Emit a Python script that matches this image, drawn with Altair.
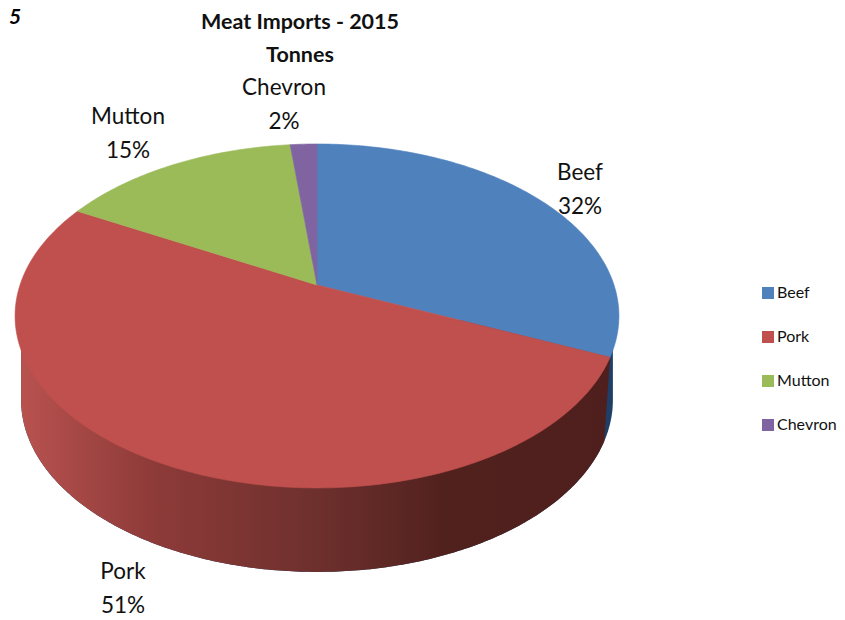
import math
import altair as alt
import pandas as pd

# Values
names = ["Beef", "Pork", "Mutton", "Chevron"]
shares = [31.6, 51.4, 15.3, 1.7]
colors = ["#4F81BD", "#C0504D", "#9BBB59", "#8064A2"]
title_lines = ["Meat Imports - 2015", "Tonnes"]
label_x = [580, 123, 128, 284]
label_y = [173, 572, 117, 88]

FONT = "Lato"

# Pie geometry (page pixels; a tilted circle seen in perspective)
CX, CY, RX, RY, K = 317, 285, 297, 166.4, 0.18
DEPTH, BOTTOM_X = 84, 0.98


def project(theta, sx=1.0, dy=0.0):
    u, v = math.sin(theta), math.cos(theta)
    d = 1 + K * v
    return CX + sx * RX * u / d, CY + dy - RY * v / d


# Top face slices
rows = []
start = 0.0
total = sum(shares)
boundary = None
for name, share in zip(names, shares):
    end = start + share / total
    rows.append({"slice": name, "i": 0, "x": CX, "y": CY})
    n = max(2, int(share * 4))
    for j in range(n + 1):
        t = 2 * math.pi * (start + (end - start) * j / n)
        px, py = project(t)
        rows.append({"slice": name, "i": j + 1, "x": px, "y": py})
    if name == "Beef":
        boundary = 2 * math.pi * end
    start = end
top = pd.DataFrame(rows)

# Side wall: lower rim of the bottom face
t_right = math.pi - math.acos(K)
t_left = math.pi + math.acos(K)
TOP_Y = CY + 35
pork_rows, beef_rows = [], []
steps = 240
for j in range(steps + 1):
    t = t_right + (t_left - t_right) * j / steps
    px, py = project(t, BOTTOM_X, DEPTH)
    beef_rows.append({"x": px, "y": py, "y2": TOP_Y})
    if t >= boundary:
        pork_rows.append({"x": px, "y": py, "y2": TOP_Y})
# Seam between Pork and Beef walls runs from the top rim to the bottom rim
x0, y0 = project(boundary)
x1, y1 = project(boundary, BOTTOM_X, DEPTH)
seam = [
    {"x": x1 + (x0 - x1) * f, "y": y1 + (y0 - y1) * f, "y2": TOP_Y}
    for f in (0.0, 0.25, 0.5, 0.75, 1.0)
]
pork_rows = pd.DataFrame(pork_rows + seam)
beef_rows = pd.DataFrame(beef_rows)

xs = alt.Scale(domain=[8, 837], range=[0, 829])
ys = alt.Scale(domain=[8, 616], range=[0, 608])
X = alt.X("x:Q", scale=xs, axis=None)
Y = alt.Y("y:Q", scale=ys, axis=None)

pork_side = alt.Chart(pork_rows).mark_area(
    color=alt.Gradient(
        gradient="linear", x1=0, y1=0, x2=1, y2=0,
        stops=[
            alt.GradientStop(color="#B8524F", offset=0),
            alt.GradientStop(color="#8E3B39", offset=0.22),
            alt.GradientStop(color="#6E302D", offset=0.5),
            alt.GradientStop(color="#51211E", offset=0.72),
            alt.GradientStop(color="#4E1F1C", offset=1),
        ],
    )
).encode(x=X, y=Y, y2="y2:Q")

beef_side = alt.Chart(beef_rows).mark_area(color="#1F3F66").encode(
    x=X, y=Y, y2="y2:Q"
)

color_scale = alt.Scale(domain=names, range=colors)
legend = alt.Legend(
    title=None,
    orient="none",
    legendX=752,
    legendY=277,
    symbolType="square",
    symbolSize=144,
    symbolStrokeWidth=0,
    rowPadding=28,
    labelFont=FONT,
    labelFontSize=16,
    labelColor="#111111",
    labelOffset=1,
)
slices = alt.Chart(top).mark_line(interpolate="linear-closed", strokeWidth=0.6).encode(
    x=X,
    y=Y,
    order=alt.Order("i:Q"),
    fill=alt.Fill("slice:N", scale=color_scale, sort=names, legend=legend),
    stroke=alt.Stroke("slice:N", scale=color_scale, sort=names, legend=None),
)

labels = pd.DataFrame(
    {
        "x": label_x,
        "y": label_y,
        "text": [f"{n}\n{round(s)}%" for n, s in zip(names, shares)],
    }
)
label_layer = alt.Chart(labels).mark_text(
    font=FONT,
    fontSize=22.5,
    lineBreak="\n",
    lineHeight=34,
    baseline="middle",
    align="center",
    color="#111111",
).encode(x=X, y=Y, text="text:N")

corner = alt.Chart(pd.DataFrame({"x": [9], "y": [24], "text": ["5"]})).mark_text(
    font=FONT,
    fontSize=21,
    fontWeight="bold",
    fontStyle="italic",
    align="left",
    baseline="alphabetic",
    color="#000000",
).encode(x=X, y=Y, text="text:N")

chart = (
    alt.layer(beef_side, pork_side, slices, label_layer, corner)
    .resolve_scale(fill="shared", stroke="shared")
    .properties(
        width=829,
        height=608,
        padding=0,
        background="white",
        autosize=alt.AutoSizeParams(type="none"),
        title=alt.TitleParams(
            text=title_lines,
            font=FONT,
            fontSize=21.5,
            fontWeight="bold",
            color="#111111",
            anchor="start",
            frame="group",
            align="center",
            baseline="top",
            offset=0,
            dx=292,
            dy=59,
            lineHeight=33,
        ),
    )
    .configure_view(stroke=None)
)
chart.save("out.html", embed_options={"renderer": "svg", "actions": False})
